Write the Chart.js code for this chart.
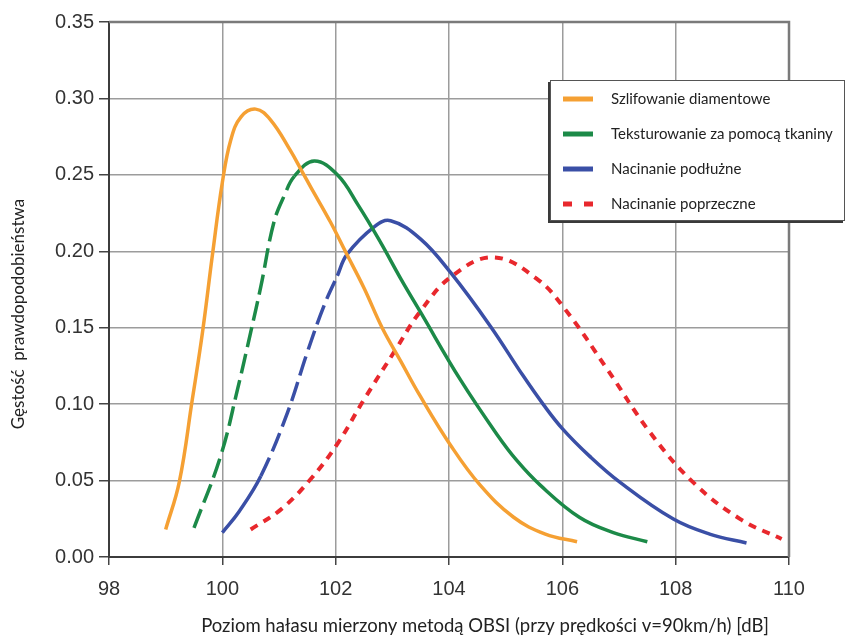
<!DOCTYPE html>
<html>
<head>
<meta charset="utf-8">
<script src="https://cdn.jsdelivr.net/npm/chart.js@4.4.1/dist/chart.umd.min.js"></script>
<style>
html,body{margin:0;padding:0;background:#fff;}
#wrap{width:848px;height:637px;}
</style>
</head>
<body>
<div id="wrap"><canvas id="c" width="848" height="637"></canvas></div>
<script>
// ---- data ----
const seriesLabels = [
  'Szlifowanie diamentowe',
  'Teksturowanie za pomocą tkaniny',
  'Nacinanie podłużne',
  'Nacinanie poprzeczne'
];

const orangeX = [99.0, 99.24, 99.47, 99.65, 99.83, 100.0, 100.15, 100.33, 100.59, 100.85, 101.2, 101.41, 101.56, 101.91, 102.17, 102.5, 102.82, 103.15, 103.48, 104.03, 104.55, 105.14, 105.7, 106.26];
const orangeY = [0.018, 0.049, 0.103, 0.147, 0.199, 0.245, 0.273, 0.288, 0.293, 0.286, 0.266, 0.252, 0.242, 0.219, 0.200, 0.176, 0.150, 0.128, 0.106, 0.073, 0.047, 0.026, 0.015, 0.010];

const greenX = [99.5, 99.97, 100.27, 100.5, 100.68, 100.91, 101.1, 101.27, 101.62, 102.03, 102.4, 102.79, 103.15, 103.5, 104.2, 104.85, 105.2, 105.61, 106.3, 106.9, 107.5];
const greenY = [0.019, 0.066, 0.110, 0.147, 0.177, 0.219, 0.237, 0.249, 0.259, 0.250, 0.230, 0.206, 0.182, 0.160, 0.116, 0.080, 0.063, 0.047, 0.026, 0.016, 0.010];

const blueX = [100.0, 100.3, 100.68, 101.15, 101.5, 101.79, 102.03, 102.2, 102.68, 102.97, 103.5, 104.03, 104.73, 105.3, 105.66, 106.0, 106.48, 107.02, 107.96, 108.6, 109.25];
const blueY = [0.016, 0.030, 0.053, 0.0945, 0.134, 0.164, 0.184, 0.198, 0.216, 0.220, 0.208, 0.186, 0.151, 0.119, 0.100, 0.084, 0.066, 0.0488, 0.0248, 0.015, 0.0092];

const redX = [100.5, 101.03, 101.56, 102.03, 102.5, 103.03, 103.5, 104.06, 104.79, 105.55, 106.05, 106.79, 107.55, 108.31, 109.14, 109.87];
const redY = [0.018, 0.031, 0.051, 0.074, 0.103, 0.134, 0.161, 0.184, 0.196, 0.182, 0.162, 0.123, 0.0814, 0.0488, 0.0248, 0.0118];

const xTicks = [98, 100, 102, 104, 106, 108, 110];
const yTicks = [0, 0.05, 0.10, 0.15, 0.20, 0.25, 0.30, 0.35];
const yTickLabels = ['0.00', '0.05', '0.10', '0.15', '0.20', '0.25', '0.30', '0.35'];

const xTitle = 'Poziom hałasu mierzony metodą OBSI (przy prędkości v=90km/h) [dB]';
const yTitle = 'Gęstość  prawdopodobieństwa';

// ---- styles ----
const colors = ['#F5A033', '#1C8A48', '#3A4FA6', '#E8282D'];
const toPts = (xs, ys) => xs.map((x, i) => ({x: x, y: ys[i]}));

const LONG_DASH = [20, 7];

const datasets = [
  {label: seriesLabels[0], data: toPts(orangeX, orangeY), borderColor: colors[0], borderWidth: 3.5},
  {label: seriesLabels[1], data: toPts(greenX, greenY), borderColor: colors[1], borderWidth: 3.5,
    segment: {borderDash: c => c.p0.parsed.x < 101.2 ? LONG_DASH : undefined}},
  {label: seriesLabels[2], data: toPts(blueX, blueY), borderColor: colors[2], borderWidth: 3.5,
    segment: {borderDash: c => (c.p0.parsed.x >= 100.6 && c.p0.parsed.x < 102.0) ? LONG_DASH : undefined}},
  {label: seriesLabels[3], data: toPts(redX, redY), borderColor: colors[3], borderWidth: 4, borderDash: [8, 7]}
].map(d => Object.assign({pointRadius: 0, fill: false, tension: 0.4, borderCapStyle: 'butt'}, d));

const tickFont = {family: "'Liberation Sans Narrow', 'Arial Narrow', 'Liberation Sans', sans-serif", size: 20};
const titleFamily = "Lato, 'Open Sans', sans-serif";

const framePlugin = {
  id: 'frame',
  beforeDatasetsDraw(chart) {
    const {ctx, chartArea: a} = chart;
    ctx.save();
    ctx.strokeStyle = '#7a7a7a';
    ctx.lineWidth = 2.5;
    ctx.beginPath();
    ctx.moveTo(a.left, a.top);
    ctx.lineTo(a.right, a.top);
    ctx.lineTo(a.right, a.bottom);
    ctx.stroke();
    ctx.restore();
  }
};

const axisTitlePlugin = {
  id: 'axisTitles',
  afterDraw(chart) {
    const ctx = chart.ctx;
    ctx.save();
    ctx.fillStyle = '#222';
    ctx.textAlign = 'center';
    ctx.textBaseline = 'middle';
    ctx.font = '18.5px ' + titleFamily;
    ctx.fillText(xTitle, 485, 626);
    ctx.translate(19, 314);
    ctx.rotate(-Math.PI / 2);
    ctx.font = '17px ' + titleFamily;
    ctx.fillText(yTitle, 0, 0);
    ctx.restore();
  }
};

const legendPlugin = {
  id: 'boxLegend',
  afterDraw(chart) {
    const ctx = chart.ctx;
    const bx = 550, by = 80, bw = 295, bh = 141;
    ctx.save();
    ctx.fillStyle = '#3a3a3a';
    ctx.fillRect(bx - 2, by + 2, bw, bh);
    ctx.fillStyle = '#ffffff';
    ctx.fillRect(bx, by, bw, bh);
    ctx.strokeStyle = '#555';
    ctx.lineWidth = 1;
    ctx.strokeRect(bx + 0.5, by + 0.5, bw - 1, bh - 1);
    ctx.font = '15px ' + titleFamily;
    ctx.textBaseline = 'middle';
    ctx.textAlign = 'left';
    chart.data.datasets.forEach((ds, i) => {
      const y = 99 + i * 35;
      ctx.strokeStyle = ds.borderColor;
      ctx.lineWidth = 5;
      ctx.lineCap = 'butt';
      ctx.setLineDash(i === 3 ? [9, 12] : []);
      ctx.beginPath();
      ctx.moveTo(563, y);
      ctx.lineTo(593, y);
      ctx.stroke();
      ctx.setLineDash([]);
      ctx.fillStyle = '#222';
      ctx.fillText(ds.label, 611, y);
    });
    ctx.restore();
  }
};

new Chart(document.getElementById('c'), {
  type: 'line',
  data: {datasets: datasets},
  options: {
    responsive: false,
    animation: false,
    layout: {padding: {top: 22, right: 59, left: 0, bottom: 0}},
    plugins: {legend: {display: false}, tooltip: {enabled: false}},
    scales: {
      x: {
        type: 'linear', min: 98, max: 110,
        afterBuildTicks: s => { s.ticks = xTicks.map(v => ({value: v})); },
        afterFit: s => { s.height = 80; },
        ticks: {font: tickFont, color: '#333', padding: 12, callback: v => String(v), autoSkip: false, maxRotation: 0},
        grid: {color: '#9c9c9c', lineWidth: 1.5, tickLength: 8, tickColor: '#444'},
        border: {color: '#3c3c3c', width: 2},
        title: {display: false, text: xTitle}
      },
      y: {
        type: 'linear', min: 0, max: 0.35,
        afterBuildTicks: s => { s.ticks = yTicks.map(v => ({value: v})); },
        afterFit: s => { s.width = 109; },
        ticks: {font: tickFont, color: '#333', padding: 5, callback: (v, i) => yTickLabels[i]},
        grid: {color: '#9c9c9c', lineWidth: 1.5, tickLength: 10, tickColor: '#444'},
        border: {color: '#3c3c3c', width: 2},
        title: {display: false, text: yTitle}
      }
    }
  },
  plugins: [framePlugin, axisTitlePlugin, legendPlugin]
});
</script>
</body>
</html>
